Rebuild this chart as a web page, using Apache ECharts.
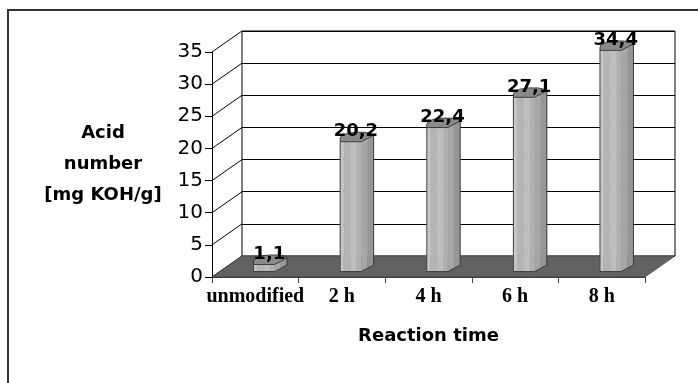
<!DOCTYPE html>
<html><head><meta charset="utf-8">
<script src="https://cdn.jsdelivr.net/npm/echarts@6/dist/echarts.min.js"></script>
<style>html,body{margin:0;padding:0;background:#fff}#c{width:698px;height:383px}</style>
</head><body><div id="c"></div>
<script>
// ---- data ----
const categories = ['unmodified', '2 h', '4 h', '6 h', '8 h'];
const acidNumber = [1.1, 20.2, 22.4, 27.1, 34.4];
const yTicks = [0, 5, 10, 15, 20, 25, 30, 35];
const yMin = 0, yMax = 35, yStep = 5;
const xTitle = 'Reaction time';
const yTitle = 'Acid\nnumber\n[mg KOH/g]';

// ---- layout / style ----
const DX = 30, DY = 21;
const F = {left: 212, right: 53, top: 52, bottom: 106};
const B = {left: F.left + DX, right: F.right - DX, top: F.top - DY, bottom: F.bottom + DY};
const SANS = 'DejaVu Sans';
const SERIF = 'Liberation Serif';
const stripeColors = ['#c6c6c6', '#b4b4b4', '#bebebe', '#b0b0b0', '#a6a6a6', '#969696'];
const profile = [[-1,0.24],[-0.78,0.24],[-0.36,0.24],[0,0.24],[0.26,0.24],[0.63,0.085],[1,-0.07]];
const capBack = [[0.85,-0.15],[0.45,-0.21],[-0.1,-0.21],[-0.6,-0.15],[-0.92,-0.04],[-1,0.08]];
const fmt = v => v.toFixed(1).replace('.', ',');

const chart = echarts.init(document.getElementById('c'), null, {renderer: 'canvas'});
chart.setOption({
  animation: false,
  backgroundColor: '#fff',
  graphic: [{type: 'rect', silent: true, z: -10,
    shape: {x: 8, y: 10, width: 800, height: 500},
    style: {fill: 'none', stroke: '#333', lineWidth: 2}}],
  grid: [
    {left: F.left, right: F.right, top: F.top, bottom: F.bottom},
    {left: B.left, right: B.right, top: B.top, bottom: B.bottom, show: true,
     backgroundColor: '#fff', borderColor: '#000', borderWidth: 1}
  ],
  xAxis: [
    {type: 'category', gridIndex: 0, data: categories, boundaryGap: true,
     axisLine: {show: true, lineStyle: {color: '#444', width: 1}},
     axisTick: {show: true, length: 6, lineStyle: {color: '#444'}},
     axisLabel: {interval: 0, margin: 10, fontFamily: SERIF, fontWeight: 'bold', fontSize: 20, color: '#000'},
     name: xTitle, nameLocation: 'middle', nameGap: 50,
     nameTextStyle: {fontFamily: SANS, fontWeight: 'bold', fontSize: 18, color: '#000'}},
    {type: 'value', gridIndex: 0, min: 0, max: categories.length, show: false},
    {type: 'category', gridIndex: 1, data: categories, show: false}
  ],
  yAxis: [
    {type: 'value', gridIndex: 0, min: yMin, max: yMax, interval: yStep,
     axisLine: {show: true, lineStyle: {color: '#000', width: 1}},
     axisTick: {show: true, length: 7, lineStyle: {color: '#000'}},
     splitLine: {show: false},
     axisLabel: {margin: 9, fontFamily: SANS, fontSize: 20, color: '#000'},
     name: yTitle, nameLocation: 'middle', nameRotate: 0, nameGap: 109,
     nameTextStyle: {fontFamily: SANS, fontWeight: 'bold', fontSize: 18, color: '#000',
       lineHeight: 31, align: 'center', verticalAlign: 'middle'}},
    {type: 'value', gridIndex: 1, min: yMin, max: yMax, interval: yStep,
     axisLine: {show: false}, axisTick: {show: false}, axisLabel: {show: false},
     splitLine: {show: true, lineStyle: {color: '#000', width: 1}}}
  ],
  series: [
    { // side wall lines
      type: 'custom', xAxisIndex: 1, yAxisIndex: 0, z: 2, silent: true,
      data: yTicks.map(v => [0, v]),
      renderItem: (params, api) => {
        const p = api.coord([api.value(0), api.value(1)]);
        return {type: 'line', shape: {x1: p[0], y1: p[1], x2: p[0] + DX, y2: p[1] - DY},
                style: {stroke: '#000', lineWidth: 1}};
      }
    },
    { // floor
      type: 'custom', xAxisIndex: 1, yAxisIndex: 0, z: 2, silent: true,
      data: [[0, yMin]],
      renderItem: (params, api) => {
        const a = api.coord([0, yMin]);
        const b = api.coord([categories.length, yMin]);
        return {type: 'polygon',
          shape: {points: [a, b, [b[0] + DX, b[1] - DY], [a[0] + DX, a[1] - DY]]},
          style: {fill: '#626262', stroke: '#333', lineWidth: 0.6}};
      }
    },
    { // bars
      type: 'custom', xAxisIndex: 1, yAxisIndex: 0, z: 3, silent: true,
      data: acidNumber.map((v, i) => [i + 0.5, v]),
      encode: {x: 0, y: 1},
      renderItem: (params, api) => {
        const xv = api.value(0), v = api.value(1);
        const base = api.coord([xv, yMin]);
        const top = api.coord([xv, v]);
        const bw = api.size([1, 0])[0];
        const cx = base[0] + DX / 2;
        const yb = base[1] - DY / 2;
        const yt = top[1] - DY / 2;
        const h = bw * 0.193;
        const pt = (p, y) => [cx + p[0] * h, y + p[1] * DY];
        const children = [];
        for (let k = 0; k < profile.length - 1; k++) {
          children.push({type: 'polygon',
            shape: {points: [pt(profile[k], yb), pt(profile[k + 1], yb), pt(profile[k + 1], yt), pt(profile[k], yt)]},
            style: {fill: stripeColors[k], stroke: stripeColors[k], lineWidth: 0.5}});
        }
        const outline = [pt(profile[0], yt)];
        profile.forEach(p => outline.push(pt(p, yb)));
        outline.push(pt(profile[profile.length - 1], yt));
        children.push({type: 'polyline', shape: {points: outline},
          style: {fill: 'none', stroke: '#222', lineWidth: 0.8}});
        const cap = profile.map(p => pt(p, yt)).concat(capBack.map(p => pt(p, yt)));
        children.push({type: 'polygon', shape: {points: cap},
          style: {fill: '#8a8a8a', stroke: '#222', lineWidth: 0.8}});
        children.push({type: 'text', x: cx - 1, y: yt + 4,
          style: {text: fmt(v), font: 'bold 18px "DejaVu Sans"', fill: '#000',
                  align: 'center', verticalAlign: 'bottom'}});
        return {type: 'group', children};
      }
    }
  ]
});
</script></body></html>
